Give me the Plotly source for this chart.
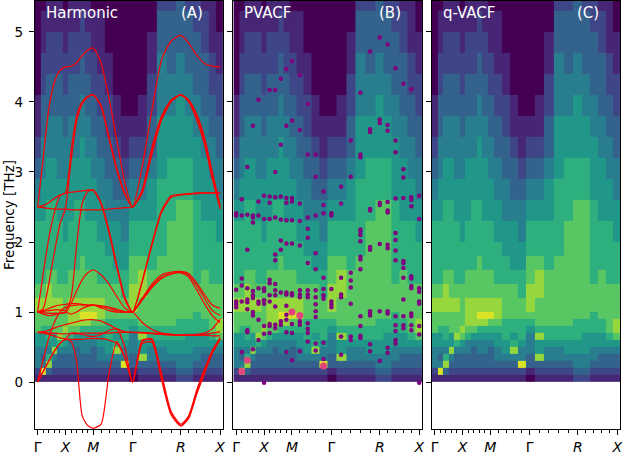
import plotly.graph_objects as go

# q-path coordinates (cumulative distance along Γ-X-M-Γ-R-X)
q_pts = [0.0, 0.1, 0.2, 0.3, 0.4, 0.5, 0.6, 0.7, 0.8, 0.9, 1.0,
         1.1414, 1.2828, 1.4243, 1.5657, 1.7071,
         1.8803, 2.0535, 2.2267, 2.3999, 2.5731,
         2.7145, 2.8560, 2.9974, 3.1388, 3.2802]
high_sym_idx = [0, 5, 10, 15, 20, 25]
high_sym_labels = ["Γ", "<i>X</i>", "<i>M</i>", "Γ", "<i>R</i>", "<i>X</i>"]

# frequency bin edges of the spectral map [THz]
freq_edges = [0, 0.1, 0.2, 0.3, 0.4, 0.5, 0.6, 0.7, 0.8, 0.9, 1.0,
              1.2, 1.4, 1.6, 1.8, 2.0,
              2.3, 2.6, 2.9, 3.2, 3.5, 3.8, 4.1, 4.4, 4.7, 5.0, 5.3, 5.6]

# spectral intensity (0-10), one profile per q-point, low -> high frequency
spec_cols = [
    [1,2,4,4,4,5,5,7,7,7, 8,7,6,6,6, 6,5,4,3,2,1,1,0,0,0,0,0],
    [1,9,4,3,4,5,5,6,7,7, 8,7,6,6,6, 6,5,5,4,4,3,3,2,2,1,1,0],
    [1,3,8,6,4,5,6,6,7,7, 8,8,7,6,6, 6,6,5,5,4,4,3,3,2,2,1,1],
    [1,2,3,4,8,5,5,7,7,7, 8,7,7,6,6, 6,6,5,5,4,4,3,3,2,2,1,1],
    [1,2,3,3,4,6,8,7,7,7, 8,7,6,6,6, 6,5,5,4,4,4,3,3,2,2,1,1],
    [1,2,3,3,4,5,7,8,7,7, 7,7,6,6,6, 5,5,5,4,4,3,3,2,2,1,1,0],
    [1,2,3,3,4,4,6,7,8,8, 8,7,7,6,6, 6,5,5,5,4,4,3,3,2,2,1,1],
    [1,2,3,3,3,4,5,7,8,8, 8,7,7,6,6, 6,6,5,5,4,4,3,3,2,2,1,1],
    [1,2,3,3,4,4,5,6,8,9, 8,7,7,7,6, 6,6,5,5,5,4,4,3,3,2,2,1],
    [1,2,3,3,4,4,5,6,8,9, 8,7,7,6,6, 6,5,5,5,4,4,3,3,2,2,1,1],
    [1,2,3,3,3,4,5,6,7,9, 8,7,7,6,6, 6,5,5,4,4,3,3,2,2,1,1,0],
    [1,2,3,4,4,5,5,6,7,8, 8,7,6,6,6, 5,5,4,4,3,3,2,2,1,1,1,0],
    [1,2,3,4,5,5,6,6,6,7, 7,7,6,6,5, 5,4,4,3,3,2,2,1,1,0,0,0],
    [1,2,3,4,8,6,5,6,6,7, 7,7,6,5,5, 5,4,3,3,2,1,1,0,0,0,0,0],
    [1,2,9,4,4,5,6,6,6,7, 7,6,6,5,5, 4,4,3,2,1,1,0,0,0,0,0,0],
    [0,1,3,3,4,4,4,5,6,7, 8,8,7,7,6, 6,5,4,3,2,1,0,0,0,0,0,0],
    [1,2,3,8,5,5,8,6,7,7, 7,8,8,7,6, 6,5,4,3,2,1,1,0,0,0,0,0],
    [1,2,3,4,4,5,6,6,7,7, 7,7,7,6,6, 6,5,5,4,3,3,2,2,1,1,0,0],
    [1,2,3,4,4,5,6,6,7,7, 7,7,7,7,6, 6,6,6,5,5,5,4,4,4,3,3,2],
    [1,2,3,4,5,5,6,6,7,7, 7,7,7,7,7, 7,6,6,6,5,5,4,4,3,3,3,2],
    [2,3,4,4,5,5,6,6,6,7, 7,7,7,7,7, 7,7,6,6,5,5,5,4,4,3,3,3],
    [2,3,4,4,5,5,5,6,6,7, 7,7,7,7,7, 7,7,6,6,5,5,4,4,3,3,3,2],
    [1,2,3,4,4,5,5,6,6,6, 7,7,6,6,6, 6,6,5,5,5,4,4,3,3,3,2,2],
    [1,2,3,3,4,5,5,6,6,7, 7,7,7,6,6, 6,5,5,5,4,4,3,3,3,2,2,1],
    [1,2,3,3,4,5,6,7,7,7, 7,7,6,6,6, 6,5,5,4,4,3,3,2,2,1,1,1],
    [1,2,3,3,4,5,7,8,8,7, 7,7,6,6,6, 5,5,4,4,3,3,2,2,1,1,0,0],
]

# harmonic phonon branches [THz] at each q-point
band_01 = [2.5,3.2,3.9,4.28,4.45,4.5, 4.51,4.56,4.66,4.74,4.77, 4.55,4.05,3.45,2.85,2.5, 3.08,3.88,4.6,4.87,4.95, 4.84,4.67,4.55,4.51,4.5]
band_02 = [2.5,2.52,2.56,2.62,2.67,2.7, 3.3,3.8,4.0,4.08,4.1, 3.93,3.47,3.02,2.68,2.5, 2.75,3.35,3.8,4.03,4.1, 4.02,3.8,3.45,2.95,2.5]
band_03 = [1.0,1.05,1.4,1.85,2.25,2.48, 3.15,3.72,3.97,4.07,4.1, 3.95,3.5,3.05,2.7,2.5, 2.72,3.3,3.77,4.02,4.1, 4.0,3.75,3.4,2.9,2.47]
band_04 = [2.5,2.49,2.48,2.47,2.47,2.47, 2.46,2.46,2.46,2.46,2.46, 2.46,2.47,2.48,2.49,2.5, 2.7,3.25,3.74,4.0,4.1, 4.03,3.83,3.5,3.0,2.52]
band_05 = [1.0,1.55,2.05,2.42,2.66,2.7, 2.71,2.72,2.73,2.74,2.74, 2.56,2.17,1.67,1.22,1.0, 1.45,1.98,2.45,2.66,2.68, 2.69,2.7,2.7,2.7,2.7]
band_06 = [1.0,1.01,1.02,1.03,1.03,1.02, 1.2,1.95,2.55,2.72,2.74, 2.54,2.13,1.63,1.18,1.0, 1.43,1.95,2.42,2.64,2.67, 2.68,2.69,2.7,2.7,2.71]
band_07 = [1.0,0.99,0.98,0.98,0.98,0.99, 1.12,1.3,1.46,1.56,1.6, 1.53,1.4,1.22,1.06,1.0, 1.2,1.4,1.53,1.57,1.58, 1.55,1.42,1.25,1.1,1.05]
band_08 = [1.0,1.02,1.05,1.08,1.1,1.11, 1.12,1.12,1.11,1.1,1.1, 1.09,1.07,1.04,1.01,1.0, 1.18,1.37,1.5,1.55,1.57, 1.53,1.38,1.2,1.02,0.95]
band_09 = [0.0,0.32,0.62,0.85,1.0,1.07, 1.09,1.1,1.1,1.1,1.1, 1.06,1.02,1.0,1.0,1.0, 1.17,1.35,1.48,1.54,1.56, 1.5,1.32,1.12,0.95,0.85]
band_10 = [0.71,0.71,0.7,0.7,0.69,0.69, 0.69,0.69,0.7,0.7,0.7, 0.7,0.7,0.71,0.71,0.71, 0.7,0.69,0.68,0.67,0.67, 0.67,0.67,0.67,0.66,0.66]
band_11 = [0.71,0.72,0.74,0.77,0.8,0.82, 0.84,0.86,0.88,0.89,0.89, 0.87,0.82,0.76,0.72,0.71, 0.71,0.7,0.69,0.68,0.67, 0.67,0.68,0.7,0.76,0.9]
band_12 = [0.71,0.7,0.68,0.66,0.63,0.62, 0.7,0.7,0.68,0.66,0.65, 0.68,0.74,0.76,0.5,0.0, 0.6,0.6,0.08,-0.45,-0.62, -0.5,-0.15,0.15,0.43,0.62]
band_13 = [0.0,0.15,0.3,0.44,0.55,0.61, 0.58,0.3,-0.48,-0.62,-0.66, -0.6,0.12,0.58,0.35,0.0, 0.58,0.62,0.12,-0.42,-0.6, -0.48,-0.12,0.18,0.45,0.63]
band_14 = [0.0,0.15,0.3,0.44,0.55,0.61, 0.61,0.61,0.61,0.62,0.62, 0.62,0.6,0.55,0.35,0.0, 0.55,0.57,0.03,-0.47,-0.63, -0.52,-0.18,0.12,0.41,0.61]
band_15 = [1.0,0.97,0.95,0.96,0.98,1.0, 0.97,1.0,1.05,1.08,1.1, 1.08,1.05,1.02,1.0,1.0, 0.85,0.75,0.7,0.68,0.67, 0.67,0.67,0.68,0.7,0.72]
bands = [band_01, band_02, band_03, band_04, band_05, band_06, band_07, band_08,
         band_09, band_10, band_11, band_12, band_13, band_14, band_15]

# PVACF peak frequencies [THz] per q-point
pv_freqs = [
    [2.41, 2.38, 1.32, 1.15, 1.11, 1.07],
    [2.61, 2.38, 1.48, 1.38, 1.15, 0.43],
    [3.07, 2.39, 1.89, 1.34, 1.18, 1.14, 1.04, 0.74, 0.71],
    [3.66, 2.38, 2.35, 2.28, 1.30, 1.24, 1.20, 1.0, 0.95, 0.47],
    [4.03, 2.58, 2.38, 1.34, 1.15, 1.12, 0.89, 0.60],
    [2.66, 2.33, 1.34, 1.30, 1.17, 1.12, 0.80, 0.69, -0.01],
    [4.17, 2.65, 2.56, 2.33, 1.46, 1.41, 1.24, 1.15, 0.83, 0.80, 0.70],
    [4.17, 3.0, 2.64, 2.35, 1.82, 1.74, 1.40, 1.31, 1.24, 1.08, 0.82, 0.77],
    [4.33, 3.39, 2.65, 2.32, 2.02, 1.89, 1.28, 0.87, 0.82],
    [4.47, 3.66, 2.63, 2.56, 2.31, 1.98, 1.28, 1.25, 1.09, 0.96, 0.89, 0.71, 0.43],
    [4.58, 3.73, 2.63, 2.58, 2.31, 1.98, 1.27, 1.24, 0.83, 0.70, 0.31],
    [4.38, 3.60, 2.55, 2.30, 1.95, 1.31, 1.25, 1.21, 0.87, 0.82, 0.44],
    [3.97, 3.25, 2.35, 2.19, 2.06, 1.70, 1.31, 1.25, 1.21, 0.84, 0.76, 0.70, 0.58],
    [3.25, 2.93, 2.38, 1.84, 1.61, 1.31, 1.21, 1.11, 1.01, 0.93, 0.55, 0.45],
    [2.72, 2.53, 2.41, 1.49, 1.33, 1.24, 1.19, 0.56, 0.33],
    [2.41, 2.38, 1.33, 1.15, 1.11, 1.07],
    [2.79, 2.55, 1.49, 1.25, 1.21, 0.65, 0.39],
    [3.45, 2.93, 1.56, 1.45, 1.35, 1.12, 0.65, 0.60],
    [4.13, 3.25, 3.21, 2.18, 2.15, 2.10, 2.01, 1.79, 1.75, 1.61, 0.94, 0.80, 0.66, 0.63],
    [4.72, 3.61, 3.57, 2.47, 2.45, 1.93, 1.89, 1.01, 0.98, 0.95, 0.54, 0.44],
    [4.92, 3.75, 3.70, 2.56, 2.53, 1.97, 1.01, 0.30],
    [4.82, 3.67, 3.59, 2.57, 2.45, 2.42, 1.96, 1.91, 1.01, 0.98, 0.49, 0.42],
    [4.48, 3.45, 3.28, 2.62, 2.13, 2.03, 1.88, 1.74, 0.94, 0.81, 0.73, 0.60, 0.55],
    [4.26, 3.04, 2.92, 2.63, 1.73, 1.70, 1.63, 1.49, 1.18, 0.94, 0.81, 0.77],
    [4.18, 2.64, 2.60, 2.51, 1.51, 1.48, 1.37, 1.34, 0.98, 0.94, 0.81, 0.74],
    [2.66, 2.33, 1.34, 1.29, 1.15, 1.12, 0.80, 0.68, -0.01],
]
pv_strong_idx = [1, 2, 10, 11, 14]
pv_strong_freq = [0.15, 0.31, 1.0, 0.95, 0.23]

panel_titles = ["Harmonic", "PVACF", "q-VACF"]
panel_tags = ["(A)", "(B)", "(C)"]

# ---------------------------------------------------------------
W, H = 624, 456
n_rows = len(freq_edges) - 1
z = [[spec_cols[j][i] for j in range(len(q_pts))] for i in range(n_rows)]

fig = go.Figure()
axis_ids = [("x", "y"), ("x2", "y2"), ("x3", "y3")]
for xa, ya in axis_ids:
    fig.add_trace(go.Heatmap(x=q_pts, y=freq_edges, z=z, colorscale="Viridis",
                             zmin=0, zmax=9.5, showscale=False, hoverinfo="skip",
                             xaxis=xa, yaxis=ya))

for b in bands:
    fig.add_trace(go.Scatter(x=q_pts, y=b, mode="lines",
                             line=dict(color="#ff0000", width=1.2, shape="spline", smoothing=0.6),
                             showlegend=False, hoverinfo="skip", xaxis="x", yaxis="y"))

pvx, pvy = [], []
for j, fl in enumerate(pv_freqs):
    for f in fl:
        pvx.append(q_pts[j])
        pvy.append(f)
fig.add_trace(go.Scatter(x=pvx, y=pvy, mode="markers",
                         marker=dict(color="#800080", size=4.5, line=dict(width=0)),
                         showlegend=False, xaxis="x2", yaxis="y2"))
fig.add_trace(go.Scatter(x=[q_pts[i] for i in pv_strong_idx], y=pv_strong_freq, mode="markers",
                         marker=dict(color="#e0457b", size=7, line=dict(width=0)),
                         showlegend=False, xaxis="x2", yaxis="y2"))

xr = [-0.05, 3.33]
yr = [-0.670, 5.441]
major_vals = [q_pts[i] for i in high_sym_idx]
minor_vals = [q for i, q in enumerate(q_pts) if i not in high_sym_idx]
font = "DejaVu Sans"

domains = [[34 / W, 223 / W], [233.5 / W, 423 / W], [433 / W, 622 / W]]
layout = dict(width=W, height=H, margin=dict(l=0, r=0, t=0, b=27),
              paper_bgcolor="white", plot_bgcolor="white", showlegend=False)
for k, (xa, ya) in enumerate(axis_ids):
    xkey = "xaxis" if k == 0 else f"xaxis{k+1}"
    ykey = "yaxis" if k == 0 else f"yaxis{k+1}"
    layout[xkey] = dict(domain=domains[k], anchor=ya, range=xr, tickmode="array",
                        tickvals=major_vals, ticktext=high_sym_labels, ticks="outside",
                        ticklen=5, tickwidth=1, tickcolor="black", showline=True,
                        linecolor="black", linewidth=1, mirror=True, showgrid=False,
                        zeroline=False, tickfont=dict(family=font, size=14, color="black"),
                        minor=dict(tickmode="array", tickvals=minor_vals, ticks="outside",
                                   ticklen=3, tickwidth=0.8, tickcolor="black", showgrid=False))
    layout[ykey] = dict(domain=[0, 1], anchor=xa, range=yr, tickmode="array",
                        tickvals=[0, 1, 2, 3, 4, 5], ticks="outside", ticklen=5, tickwidth=1,
                        tickcolor="black", showline=True, linecolor="black", linewidth=1,
                        mirror=True, showgrid=False, zeroline=False,
                        showticklabels=(k == 0), ticklabelstandoff=3,
                        tickfont=dict(family=font, size=13.5, color="black"))
fig.update_layout(**layout)

title_x = [43, 242, 442]
tag_x = [205, 404, 603]
for k in range(3):
    fig.add_annotation(x=title_x[k] / W, y=1 - 12 / 429, xref="paper", yref="paper",
                       text=panel_titles[k], showarrow=False, xanchor="left", yanchor="middle",
                       font=dict(family=font, size=15, color="white"))
    fig.add_annotation(x=tag_x[k] / W, y=1 - 12 / 429, xref="paper", yref="paper",
                       text=panel_tags[k], showarrow=False, xanchor="right", yanchor="middle",
                       font=dict(family=font, size=15, color="white"))
fig.add_annotation(x=8 / W, y=0.5, xref="paper", yref="paper", text="Frequency [THz]",
                   textangle=-90, showarrow=False, xanchor="center", yanchor="middle",
                   font=dict(family=font, size=13.5, color="black"))

fig.write_html("out.html", config={"displayModeBar": False},
               post_script="document.body.style.margin='0px';document.body.style.overflow='hidden';")
